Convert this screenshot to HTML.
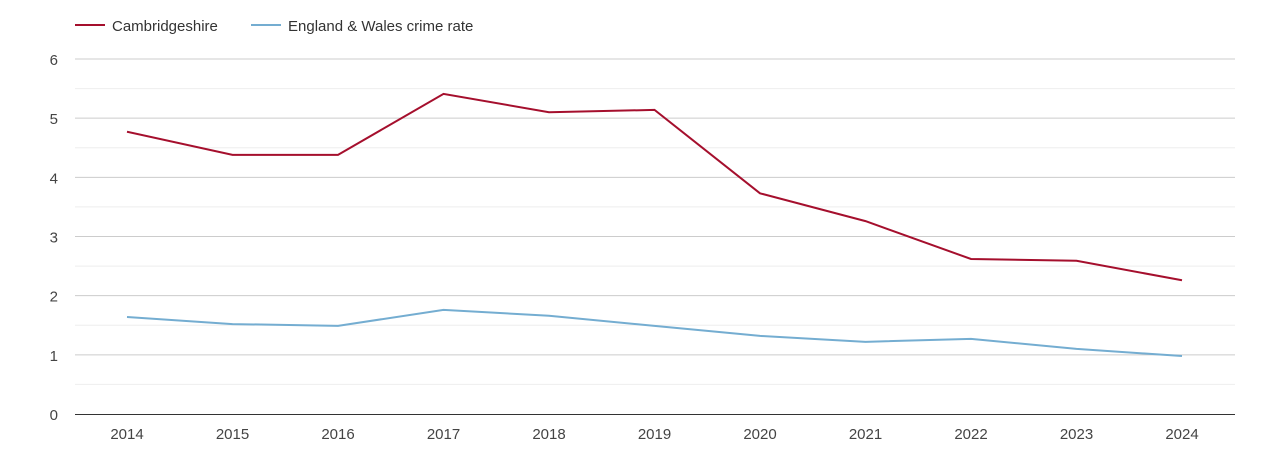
<!DOCTYPE html>
<html><head><meta charset="utf-8"><style>
body{margin:0;background:#fff;font-family:"Liberation Sans",sans-serif}
svg text{font-family:"Liberation Sans",sans-serif}
</style></head><body>
<svg id="chart" width="1270" height="450" xmlns="http://www.w3.org/2000/svg">
<g>
<g><line x1="75" y1="25" x2="105" y2="25" stroke="#a50f2d" stroke-width="2"/><text x="112" y="31" font-size="15" fill="#333">Cambridgeshire</text></g>
<g><line x1="251" y1="25" x2="281" y2="25" stroke="#74add1" stroke-width="2"/><text x="288" y="31" font-size="15" fill="#333">England &amp; Wales crime rate</text></g>
</g>
<g id="grid"></g>
<g id="yticks"></g>
<g id="xticks"></g>
<g id="series"></g>
</svg>
<script>
const years=[2014,2015,2016,2017,2018,2019,2020,2021,2022,2023,2024];
const cambs=[4.77,4.38,4.38,5.41,5.10,5.14,3.73,3.26,2.62,2.59,2.26];
const ew=[1.64,1.52,1.49,1.76,1.66,1.49,1.32,1.22,1.27,1.10,0.98];
const yTicks=[0,1,2,3,4,5,6];
const NS="http://www.w3.org/2000/svg";
const x0=75,x1=1235,yb=414,yt=59;
const X=i=>127+i*(1182-127)/(years.length-1);
const Y=v=>yb-(v/6)*(yb-yt);
function mk(t,a,p){const e=document.createElementNS(NS,t);for(const k in a)e.setAttribute(k,a[k]);p.appendChild(e);return e;}
const g=document.getElementById('grid');
for(let v=0.5;v<=6;v+=0.5){
 const l=mk('line',{x1:x0,x2:x1,y1:Y(v),y2:Y(v),stroke:(v%1===0)?'#ccc':'#eee','stroke-width':1},g);
 
 
}
const ax=mk('line',{x1:x0,x2:x1,y1:yb+0.5,y2:yb+0.5,stroke:'#333','stroke-width':1},g);


const yg=document.getElementById('yticks');
yTicks.forEach(v=>{const t=mk('text',{x:58,y:Y(v)+6,'text-anchor':'end','font-size':15,fill:'#444'},yg);t.textContent=v;
 
 });
const xg=document.getElementById('xticks');
years.forEach((y,i)=>{const t=mk('text',{x:X(i),y:439,'text-anchor':'middle','font-size':15,fill:'#444'},xg);t.textContent=y;
 
 });
const sg=document.getElementById('series');
[[ew,'#74add1','england-wales-line'],[cambs,'#a50f2d','cambridgeshire-line']].forEach(([d,c,n])=>{
 const p=mk('polyline',{points:d.map((v,i)=>X(i)+','+Y(v)).join(' '),fill:'none',stroke:c,'stroke-width':2},sg);
 
 
});
</script>
</body></html>
